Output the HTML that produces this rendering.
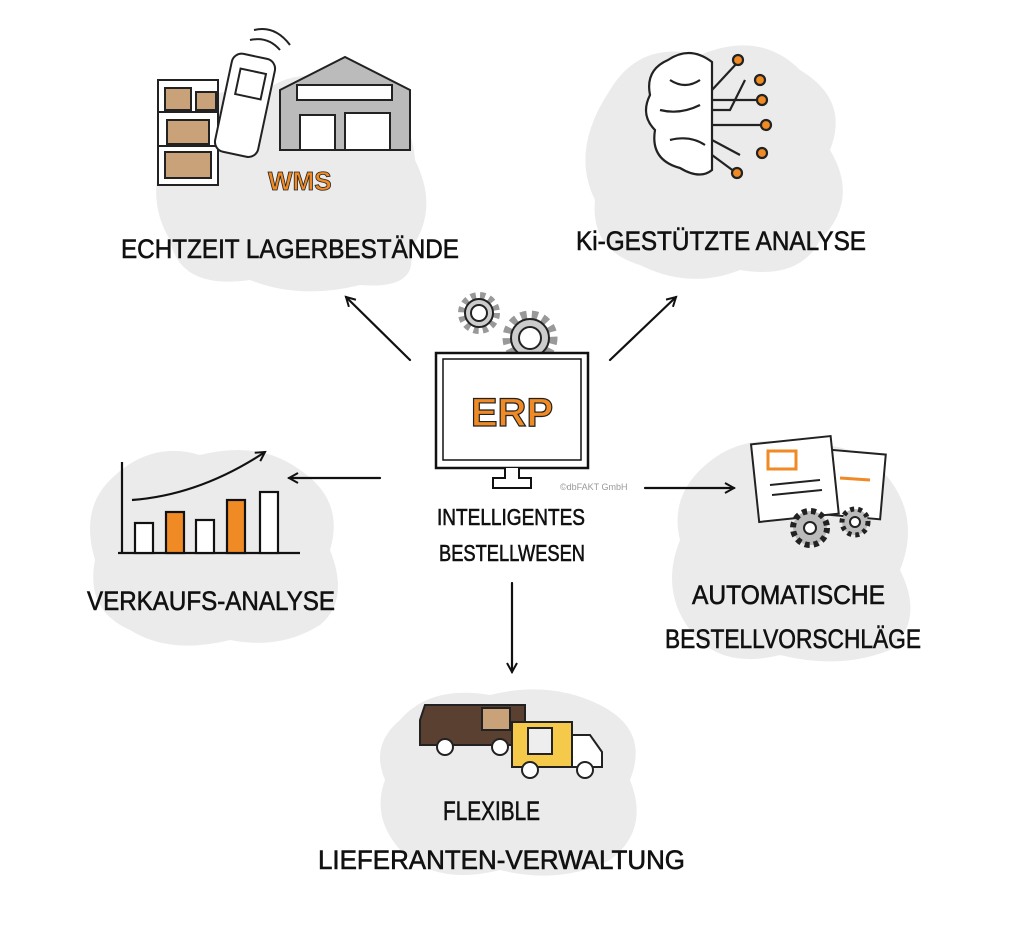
<!DOCTYPE html>
<html><head><meta charset="utf-8"><style>
html,body{margin:0;padding:0;background:#fff;width:1024px;height:934px;overflow:hidden}
svg{display:block}
text{font-family:"Liberation Sans Narrow","Liberation Sans",sans-serif}
.lbl{font-size:27px;fill:#111;stroke:#111;stroke-width:0.6}
</style></head><body>
<svg width="1024" height="934" viewBox="0 0 1024 934" xmlns="http://www.w3.org/2000/svg">
<defs>
<marker id="ah" viewBox="0 0 12 12" refX="10" refY="6" markerWidth="12" markerHeight="12" markerUnits="userSpaceOnUse" orient="auto"><path d="M1,1 L10,6 L1,11" fill="none" stroke="#111" stroke-width="2"/></marker>
</defs>
<g fill="#ebebeb">
<path d="M175,130 Q200,80 260,95 Q300,60 350,90 Q410,95 415,160 Q440,210 410,250 Q420,290 360,285 Q300,300 250,280 Q180,290 170,240 Q140,190 175,130Z"/>
<path d="M610,90 Q640,40 700,55 Q760,30 800,70 Q850,100 830,150 Q860,200 820,240 Q800,280 740,270 Q690,290 640,265 Q590,250 595,200 Q570,150 610,90Z"/>
<path d="M110,480 Q150,440 200,455 Q260,440 300,470 Q345,500 330,550 Q350,600 320,625 Q280,650 230,640 Q170,655 130,630 Q85,610 95,560 Q80,510 110,480Z"/>
<path d="M700,470 Q740,430 800,445 Q860,440 890,480 Q920,520 900,570 Q925,620 890,650 Q840,670 780,655 Q720,670 690,630 Q660,590 680,540 Q670,500 700,470Z"/>
<path d="M400,720 Q430,685 490,695 Q550,680 600,705 Q650,730 630,780 Q650,830 610,860 Q560,885 500,870 Q440,885 405,855 Q370,820 385,780 Q370,745 400,720Z"/>
</g>
<g stroke="#111" stroke-width="2.2" fill="none" stroke-linecap="round">
<line x1="410" y1="360" x2="346" y2="297" marker-end="url(#ah)"/>
<line x1="610" y1="360" x2="676" y2="297" marker-end="url(#ah)"/>
<line x1="380" y1="478" x2="289" y2="478" marker-end="url(#ah)"/>
<line x1="645" y1="488" x2="734" y2="488" marker-end="url(#ah)"/>
<line x1="512" y1="583" x2="512" y2="672" marker-end="url(#ah)"/>
</g>
<g stroke="#222" stroke-width="2" fill="#ccc">
<circle cx="479" cy="313" r="17" stroke-dasharray="5 4" stroke-width="8" fill="none" stroke="#999"/>
<circle cx="479" cy="313" r="14"/><circle cx="479" cy="313" r="8" fill="#fff"/>
<circle cx="530" cy="338" r="23" stroke-dasharray="6 5" stroke-width="9" fill="none" stroke="#999"/>
<circle cx="530" cy="338" r="19"/><circle cx="530" cy="338" r="11" fill="#fff"/>
</g>
<rect x="436" y="353" width="152" height="115" fill="#fff" stroke="#111" stroke-width="2.5"/>
<rect x="443" y="359" width="138" height="101" fill="#fff" stroke="#111" stroke-width="1.5"/>
<path d="M505,468 v10 h-12 v10 h38 v-10 h-12 v-10" fill="#fff" stroke="#111" stroke-width="2"/>
<text x="512" y="426" text-anchor="middle" style="font-family:'Liberation Sans',sans-serif;font-weight:bold;font-size:40px;fill:#f08a24;stroke:#222;stroke-width:1.2">ERP</text>
<text x="560" y="490" style="font-size:9px;fill:#999">©dbFAKT GmbH</text>
<text x="511" y="525" text-anchor="middle" class="lbl" style="font-size:23px" textLength="148" lengthAdjust="spacingAndGlyphs">INTELLIGENTES</text>
<text x="512" y="561" text-anchor="middle" class="lbl" style="font-size:23px" textLength="146" lengthAdjust="spacingAndGlyphs">BESTELLWESEN</text>
<g stroke="#222" stroke-width="2">
<rect x="158" y="80" width="60" height="105" fill="#fff"/>
<line x1="158" y1="112" x2="218" y2="112"/><line x1="158" y1="146" x2="218" y2="146"/>
<rect x="165" y="88" width="26" height="22" fill="#c9a27a"/><rect x="196" y="92" width="20" height="18" fill="#c9a27a"/>
<rect x="167" y="120" width="42" height="24" fill="#c9a27a"/><rect x="165" y="152" width="46" height="26" fill="#c9a27a"/>
<path d="M280,90 L345,57 L410,90 L410,150 L280,150Z" fill="#bbb"/>
<rect x="297" y="85" width="95" height="15" fill="#fff"/>
<rect x="300" y="115" width="35" height="35" fill="#fff"/><rect x="345" y="113" width="45" height="37" fill="#fff"/>
<rect x="222" y="55" width="44" height="100" rx="10" fill="#fff" transform="rotate(12 243 110)"/>
<rect x="232" y="70" width="26" height="26" fill="#fff" transform="rotate(12 243 110)"/>
<path d="M250,40 Q268,36 280,50 M254,30 Q275,25 290,45" fill="none"/>
</g>
<text x="268" y="190" style="font-family:'Liberation Sans',sans-serif;font-weight:bold;font-size:26px;fill:#f08a24;stroke:#222;stroke-width:0.8">WMS</text>
<text x="121" y="258" class="lbl" textLength="338" lengthAdjust="spacingAndGlyphs">ECHTZEIT LAGERBESTÄNDE</text>
<g stroke="#222" stroke-width="2.2" fill="#fff">
<path d="M712,62 Q690,45 668,60 Q645,70 650,95 Q640,115 655,130 Q650,160 680,168 Q700,180 712,170Z"/>
<path d="M670,80 Q685,90 700,80 M660,110 Q680,115 700,105 M670,140 Q690,135 705,145" fill="none"/>
<g fill="none"><path d="M712,110 H730 L745,80"/><path d="M712,90 L738,62"/><path d="M712,125 H762"/><path d="M712,140 L740,155"/><path d="M712,100 H760"/><path d="M712,155 L735,172"/></g>
<g fill="#f08a24"><circle cx="738" cy="60" r="5"/><circle cx="760" cy="80" r="5"/><circle cx="762" cy="100" r="5"/><circle cx="766" cy="125" r="5"/><circle cx="762" cy="153" r="5"/><circle cx="737" cy="173" r="5"/></g>
</g>
<text x="576" y="250" class="lbl" textLength="290" lengthAdjust="spacingAndGlyphs">Ki-GESTÜTZTE ANALYSE</text>
<g stroke="#111" stroke-width="2.2" fill="#fff">
<line x1="122" y1="462" x2="122" y2="553"/><line x1="118" y1="553" x2="300" y2="553"/>
<rect x="135" y="523" width="18" height="30"/><rect x="166" y="512" width="18" height="41" fill="#f08a24"/>
<rect x="196" y="520" width="18" height="33"/><rect x="227" y="500" width="18" height="53" fill="#f08a24"/>
<rect x="260" y="492" width="18" height="61"/>
<path d="M132,500 Q200,495 265,452" fill="none" marker-end="url(#ah)"/>
</g>
<text x="87" y="610" class="lbl" textLength="248" lengthAdjust="spacingAndGlyphs">VERKAUFS-ANALYSE</text>
<g stroke="#222" stroke-width="2" fill="#fff">
<rect x="828" y="452" width="55" height="65" transform="rotate(5 855 485)"/>
<rect x="755" y="440" width="80" height="78" transform="rotate(-6 795 480)"/>
<rect x="768" y="451" width="28" height="18" fill="none" stroke="#f08a24" stroke-width="3"/>
<line x1="770" y1="485" x2="820" y2="480"/><line x1="772" y1="495" x2="822" y2="490"/>
<line x1="840" y1="478" x2="870" y2="480" stroke="#f08a24" stroke-width="3"/>
<circle cx="810" cy="528" r="17" fill="#bbb" stroke-dasharray="5 4" stroke-width="6"/><circle cx="810" cy="528" r="6"/>
<circle cx="855" cy="522" r="13" fill="#bbb" stroke-dasharray="4 4" stroke-width="5"/><circle cx="855" cy="522" r="5"/>
</g>
<text x="692" y="604" class="lbl" textLength="193" lengthAdjust="spacingAndGlyphs">AUTOMATISCHE</text>
<text x="665" y="648" class="lbl" textLength="256" lengthAdjust="spacingAndGlyphs">BESTELLVORSCHLÄGE</text>
<g stroke="#222" stroke-width="2">
<path d="M425,705 H525 V745 H420 V720Z" fill="#5a4030"/>
<rect x="482" y="708" width="28" height="22" fill="#c9a27a"/>
<circle cx="445" cy="747" r="8" fill="#fff"/><circle cx="500" cy="747" r="8" fill="#fff"/>
<rect x="512" y="722" width="60" height="45" fill="#f5c94a"/>
<path d="M572,735 H590 L602,752 V767 H572Z" fill="#fff"/>
<rect x="528" y="728" width="24" height="26" fill="#eee"/>
<circle cx="530" cy="770" r="8" fill="#fff"/><circle cx="585" cy="770" r="8" fill="#fff"/>
</g>
<text x="443" y="820" class="lbl" textLength="97" lengthAdjust="spacingAndGlyphs">FLEXIBLE</text>
<text x="318" y="869" class="lbl" textLength="367" lengthAdjust="spacingAndGlyphs">LIEFERANTEN-VERWALTUNG</text>
</svg>
</body></html>
